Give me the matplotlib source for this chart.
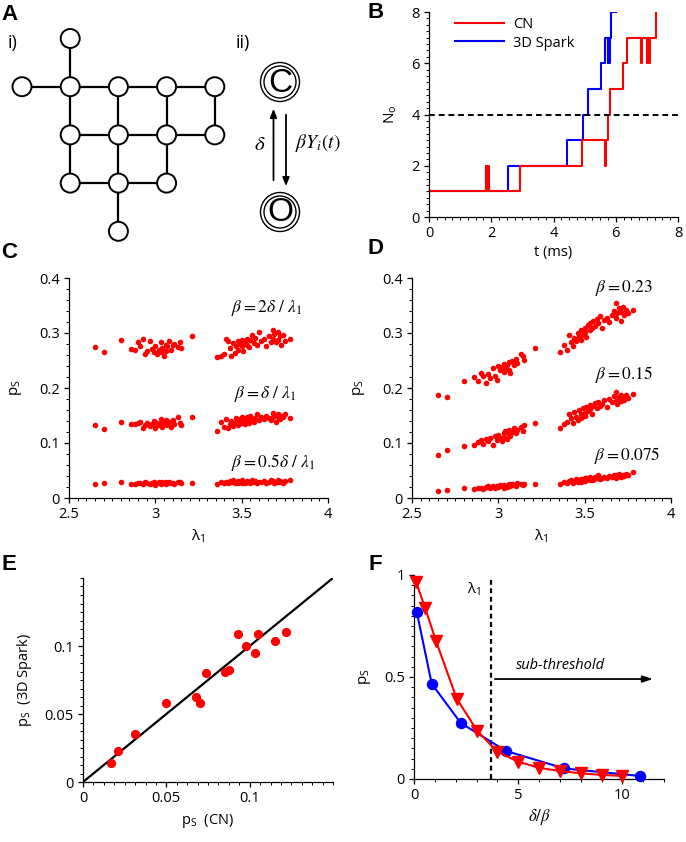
import matplotlib
matplotlib.use("Agg")
import matplotlib.pyplot as plt
from matplotlib.patches import Circle
from matplotlib.ticker import MultipleLocator, FixedLocator, FuncFormatter

plt.rcParams['font.family'] = ['Open Sans', 'DejaVu Sans']
plt.rcParams['mathtext.fontset'] = 'dejavusans'
plt.rcParams['font.size'] = 10
plt.rcParams['axes.linewidth'] = 0.9

RED = '#ff0000'
BLUE = '#0000ff'

# ---- panel A: network (grid row, grid col) ----
nodes = [(0, 1), (1, 0), (1, 1), (1, 2), (1, 3), (1, 4),
         (2, 1), (2, 2), (2, 3), (2, 4), (3, 1), (3, 2), (3, 3), (4, 2)]

# ---- panel B: number of open channels vs time ----
cn_t = [0.0, 1.84, 1.87, 1.90, 1.93, 2.93, 4.92, 5.67, 5.69, 5.75, 5.83, 6.22,
        6.36, 6.80, 6.83, 7.02, 7.05, 7.07, 7.10, 7.29, 7.30]
cn_n = [1, 2, 1, 2, 1, 2, 3, 2, 3, 4, 5, 6, 7, 6, 7, 6, 7, 6, 7, 8, 8]
spark_t = [0.0, 2.55, 4.42, 4.94, 5.10, 5.53, 5.66, 5.74, 5.76, 5.79, 5.81, 5.85, 6.00]
spark_n = [1, 2, 3, 4, 5, 6, 7, 6, 7, 6, 7, 8, 8]

# ---- panels C, D: spark probability vs lambda_1 (same networks in every row) ----
lam = [2.65, 2.70, 2.80, 2.86, 2.88, 2.90, 2.91, 2.93, 2.94, 2.95, 2.97, 2.98, 2.99,
       3.00, 3.01, 3.02, 3.03, 3.03, 3.04, 3.05, 3.06, 3.06, 3.07, 3.08, 3.09, 3.10,
       3.11, 3.13, 3.14, 3.15, 3.21,
       3.36, 3.38, 3.40, 3.41, 3.42, 3.43, 3.44, 3.45, 3.46, 3.47, 3.48, 3.48, 3.49,
       3.50, 3.50, 3.51, 3.52, 3.53, 3.53, 3.54, 3.55, 3.56, 3.57, 3.58, 3.59, 3.60,
       3.61, 3.63, 3.64, 3.66, 3.67, 3.68, 3.68, 3.69, 3.70, 3.71, 3.71, 3.72, 3.73,
       3.74, 3.75, 3.78]

c_high = [0.274, 0.266, 0.287, 0.271, 0.270, 0.283, 0.276, 0.289, 0.262, 0.268, 0.286,
          0.271, 0.265, 0.276, 0.262, 0.270, 0.283, 0.266, 0.273, 0.259, 0.278, 0.268,
          0.276, 0.286, 0.270, 0.278, 0.280, 0.275, 0.283, 0.272, 0.294,
          0.256, 0.259, 0.262, 0.290, 0.285, 0.272, 0.258, 0.282, 0.263, 0.276, 0.285,
          0.270, 0.280, 0.288, 0.276, 0.268, 0.284, 0.279, 0.290, 0.274, 0.287, 0.296,
          0.282, 0.291, 0.278, 0.301, 0.285, 0.289, 0.276, 0.294, 0.284, 0.306, 0.290,
          0.299, 0.283, 0.301, 0.288, 0.294, 0.278, 0.297, 0.286, 0.290]
c_mid = [0.132, 0.125, 0.138, 0.134, 0.135, 0.137, 0.139, 0.128, 0.133, 0.136, 0.131,
         0.134, 0.140, 0.128, 0.137, 0.132, 0.143, 0.135, 0.130, 0.139, 0.136, 0.141,
         0.133, 0.138, 0.130, 0.142, 0.135, 0.148, 0.137, 0.133, 0.148,
         0.121, 0.138, 0.130, 0.143, 0.127, 0.135, 0.140, 0.131, 0.137, 0.145, 0.132,
         0.139, 0.143, 0.136, 0.147, 0.140, 0.134, 0.148, 0.142, 0.137, 0.150, 0.144,
         0.139, 0.146, 0.153, 0.141, 0.148, 0.144, 0.150, 0.146, 0.142, 0.155, 0.147,
         0.151, 0.139, 0.148, 0.153, 0.143, 0.150, 0.147, 0.152, 0.145]
c_low = [0.026, 0.027, 0.029, 0.026, 0.025, 0.027, 0.028, 0.026, 0.029, 0.027, 0.025,
         0.028, 0.030, 0.023, 0.027, 0.029, 0.026, 0.028, 0.030, 0.027, 0.025, 0.029,
         0.028, 0.030, 0.027, 0.028, 0.026, 0.030, 0.029, 0.027, 0.028,
         0.026, 0.029, 0.028, 0.030, 0.027, 0.031, 0.029, 0.033, 0.028, 0.030, 0.027,
         0.031, 0.029, 0.032, 0.028, 0.030, 0.027, 0.031, 0.029, 0.030, 0.028, 0.032,
         0.029, 0.031, 0.027, 0.030, 0.029, 0.031, 0.028, 0.030, 0.032, 0.029, 0.031,
         0.027, 0.030, 0.032, 0.029, 0.031, 0.030, 0.028, 0.031, 0.032]

d_high = [0.188, 0.183, 0.213, 0.220, 0.212, 0.228, 0.222, 0.209, 0.226, 0.218, 0.236,
          0.222, 0.214, 0.240, 0.232, 0.238, 0.229, 0.244, 0.236, 0.241, 0.233, 0.248,
          0.227, 0.250, 0.242, 0.252, 0.246, 0.262, 0.258, 0.251, 0.273,
          0.265, 0.278, 0.269, 0.297, 0.284, 0.276, 0.291, 0.285, 0.300, 0.293, 0.288,
          0.306, 0.296, 0.310, 0.301, 0.292, 0.314, 0.305, 0.318, 0.309, 0.322, 0.313,
          0.326, 0.318, 0.331, 0.309, 0.323, 0.328, 0.320, 0.333, 0.340, 0.354, 0.328,
          0.336, 0.345, 0.322, 0.339, 0.348, 0.332, 0.342, 0.337, 0.341]
d_mid = [0.078, 0.087, 0.094, 0.096, 0.102, 0.105, 0.099, 0.108, 0.103, 0.110, 0.097,
         0.113, 0.106, 0.115, 0.109, 0.104, 0.118, 0.111, 0.121, 0.107, 0.116, 0.124,
         0.113, 0.120, 0.127, 0.118, 0.123, 0.129, 0.121, 0.133, 0.136,
         0.128, 0.134, 0.139, 0.152, 0.145, 0.136, 0.157, 0.148, 0.141, 0.160, 0.152,
         0.146, 0.163, 0.155, 0.149, 0.166, 0.158, 0.170, 0.161, 0.153, 0.168, 0.172,
         0.163, 0.175, 0.167, 0.171, 0.178, 0.165, 0.180, 0.174, 0.186, 0.177, 0.192,
         0.171, 0.183, 0.188, 0.176, 0.184, 0.179, 0.187, 0.181, 0.190]
d_low = [0.013, 0.015, 0.019, 0.017, 0.018, 0.019, 0.017, 0.020, 0.022, 0.018, 0.021,
         0.019, 0.022, 0.020, 0.023, 0.021, 0.019, 0.024, 0.022, 0.020, 0.025, 0.023,
         0.021, 0.026, 0.024, 0.022, 0.027, 0.025, 0.023, 0.026, 0.025,
         0.026, 0.029, 0.027, 0.031, 0.033, 0.028, 0.030, 0.034, 0.029, 0.032, 0.035,
         0.030, 0.033, 0.036, 0.031, 0.037, 0.034, 0.032, 0.038, 0.035, 0.033, 0.039,
         0.036, 0.042, 0.034, 0.037, 0.039, 0.036, 0.040, 0.038, 0.042, 0.037, 0.041,
         0.039, 0.043, 0.040, 0.038, 0.042, 0.040, 0.044, 0.042, 0.047]

c_labels = [r'$\beta = \mathit{2}\delta\ /\ \lambda_{\mathit{1}}$',
            r'$\beta = \delta\ /\ \lambda_{\mathit{1}}$',
            r'$\beta = \mathit{0.5}\delta\ /\ \lambda_{\mathit{1}}$']
d_labels = [r'$\beta = \mathit{0.23}$', r'$\beta = \mathit{0.15}$', r'$\beta = \mathit{0.075}$']

# ---- panel E: CN vs 3D Spark ----
ps_cn = [0.017, 0.021, 0.031, 0.050, 0.068, 0.070, 0.074, 0.085, 0.0875, 0.093,
         0.098, 0.103, 0.105, 0.115, 0.122]
ps_spark = [0.014, 0.0225, 0.0355, 0.058, 0.0623, 0.058, 0.080, 0.081, 0.082, 0.109,
            0.100, 0.0946, 0.109, 0.104, 0.110]

# ---- panel F: ps vs delta/beta ----
f_tri_x = [0.1, 0.53, 1.06, 2.05, 3.04, 4.0, 5.0, 6.0, 7.0, 8.0, 9.0, 10.0]
f_tri_y = [0.965, 0.84, 0.675, 0.394, 0.235, 0.134, 0.085, 0.055, 0.039, 0.028, 0.020, 0.015]
f_dot_x = [0.13, 0.85, 2.24, 4.4, 7.2, 10.83]
f_dot_y = [0.82, 0.467, 0.275, 0.138, 0.052, 0.015]
lam1_mark = 3.7

W, H = 686, 842
fig = plt.figure(figsize=(W / 100, H / 100), dpi=100)


def box(x0, y0, x1, y1):
    return [x0 / W, 1 - y1 / H, (x1 - x0) / W, (y1 - y0) / H]


fmt = FuncFormatter(lambda v, p: '%g' % round(v, 4))


def style(ax, xmaj, xmin, ymaj, ymin):
    for s in ('top', 'right'):
        ax.spines[s].set_visible(False)
    ax.xaxis.set_major_locator(xmaj if not isinstance(xmaj, (int, float)) else MultipleLocator(xmaj))
    ax.yaxis.set_major_locator(ymaj if not isinstance(ymaj, (int, float)) else MultipleLocator(ymaj))
    ax.xaxis.set_minor_locator(MultipleLocator(xmin))
    ax.yaxis.set_minor_locator(MultipleLocator(ymin))
    ax.xaxis.set_major_formatter(fmt)
    ax.yaxis.set_major_formatter(fmt)
    ax.tick_params(which='major', direction='out', length=3.5, width=0.9, labelsize=10.5, pad=3)
    ax.tick_params(which='minor', direction='out', length=2, width=0.7)


# ===== A =====
axA = fig.add_axes([0, 1 - 262 / H, 343 / W, 262 / H])
axA.set_xlim(0, 343)
axA.set_ylim(262, 0)
axA.axis('off')
gx0, gy0, gs = 22, 38.5, 48.2
pos = {n: (gx0 + n[1] * gs, gy0 + n[0] * gs) for n in nodes}
nset = set(nodes)
for (r, c) in nodes:
    for nb in ((r, c + 1), (r + 1, c)):
        if nb in nset:
            x1, y1 = pos[(r, c)]
            x2, y2 = pos[nb]
            axA.plot([x1, x2], [y1, y2], color='k', lw=1.6, zorder=1)
for n in nodes:
    axA.add_patch(Circle(pos[n], 9.5, facecolor='white', edgecolor='k', lw=1.4, zorder=2))
axA.text(8, 43, 'i)', fontsize=13, va='center', ha='left')
axA.text(236, 43, 'ii)', fontsize=13, va='center', ha='left')
for (cx, cy, letter) in ((280, 82, 'C'), (280, 212, 'O')):
    axA.add_patch(Circle((cx, cy), 19.5, facecolor='none', edgecolor='k', lw=1.0))
    axA.add_patch(Circle((cx, cy), 16, facecolor='none', edgecolor='k', lw=1.0))
    axA.text(cx, cy + 1, letter, fontsize=24, ha='center', va='center',
             family=['Liberation Sans', 'DejaVu Sans'])
axA.annotate('', xy=(273.5, 106), xytext=(273.5, 183),
             arrowprops=dict(arrowstyle='-|>,head_length=0.5,head_width=0.2', color='k', lw=1.3))
axA.annotate('', xy=(286, 189), xytext=(286, 112),
             arrowprops=dict(arrowstyle='-|>,head_length=0.5,head_width=0.2', color='k', lw=1.3))
axA.text(266, 145, r'$\delta$', fontsize=15, ha='right', va='center', math_fontfamily='stix')
axA.text(295, 143, r'$\beta Y_i(t)$', fontsize=14, ha='left', va='center', math_fontfamily='stix')

# ===== B =====
axB = fig.add_axes(box(429, 12, 678, 217))
axB.plot(spark_t, spark_n, drawstyle='steps-post', color=BLUE, lw=1.5, label='3D Spark')
axB.plot(cn_t, cn_n, drawstyle='steps-post', color=RED, lw=1.5, label='CN')
axB.axhline(4, color='k', ls=(0, (3, 2)), lw=1.4)
axB.set_xlim(0, 8)
axB.set_ylim(0, 8)
style(axB, 2, 0.25, 2, 0.25)
axB.set_xlabel('t (ms)', fontsize=10.5, labelpad=3)
axB.set_ylabel(r'N$_\mathregular{o}$', fontsize=11, labelpad=9)
h, l = axB.get_legend_handles_labels()
axB.legend(h[::-1], l[::-1], loc='upper left', bbox_to_anchor=(0.05, 1.04), frameon=False,
           handlelength=3.4, fontsize=10.5, labelspacing=0.25, handletextpad=0.6)

# ===== C & D =====
for rect, rows, labels, lab_pos in (
        (box(69, 278, 328, 498), (c_high, c_mid, c_low), c_labels,
         [(3.85, 0.345), (3.82, 0.19), (3.925, 0.064)]),
        (box(412, 278, 671, 498), (d_high, d_mid, d_low), d_labels,
         [(3.896, 0.382), (3.896, 0.224), (3.94, 0.078)])):
    ax = fig.add_axes(rect)
    for ys in rows:
        ax.scatter(lam, ys, s=16, color=RED, linewidths=0, zorder=3)
    for txt, (tx, ty) in zip(labels, lab_pos):
        ax.text(tx, ty, txt, fontsize=12.5, ha='right', va='center', math_fontfamily='stix')
    ax.set_xlim(2.5, 4)
    ax.set_ylim(0, 0.4)
    style(ax, 0.5, 0.05, 0.1, 0.02)
    ax.set_xlabel(r'λ$_\mathregular{1}$', fontsize=11, labelpad=4)
    ax.set_ylabel(r'p$_\mathregular{S}$', fontsize=11, labelpad=11)

# ===== E =====
axE = fig.add_axes(box(83, 578, 333, 782))
axE.plot([0, 0.15], [0, 0.15], color='k', lw=1.6, zorder=2)
axE.scatter(ps_cn, ps_spark, s=44, color=RED, linewidths=0, zorder=3)
axE.set_xlim(0, 0.15)
axE.set_ylim(0, 0.15)
style(axE, FixedLocator([0, 0.05, 0.1]), 0.00625, FixedLocator([0, 0.05, 0.1]), 0.00625)
axE.set_xlabel(r'p$_\mathregular{S}$  (CN)', fontsize=10.5, labelpad=4)
axE.set_ylabel(r'p$_\mathregular{S}$  (3D Spark)', fontsize=10.5, labelpad=8)

# ===== F =====
axF = fig.add_axes(box(414, 575, 664, 779))
axF.plot(f_dot_x, f_dot_y, '-o', color=BLUE, lw=1.5, ms=7.2, clip_on=False, zorder=3)
axF.plot(f_tri_x, f_tri_y, '-v', color=RED, lw=1.5, ms=8, clip_on=False, zorder=4)
axF.plot([lam1_mark, lam1_mark], [0, 0.985], color='k', ls=(0, (2.2, 1.6)), lw=1.6, zorder=2)
axF.text(lam1_mark - 0.5, 0.93, r'λ$_\mathregular{1}$', fontsize=10.5, ha='right', va='center')
axF.annotate('', xy=(11.6, 0.49), xytext=(lam1_mark + 0.05, 0.49),
             arrowprops=dict(arrowstyle='-|>,head_length=0.6,head_width=0.2', color='k', lw=1.3))
axF.text(7.05, 0.555, 'sub-threshold', fontsize=10.5, style='italic', ha='center', va='center')
axF.set_xlim(0, 12)
axF.set_ylim(0, 1)
style(axF, 5, 1, 0.5, 0.05)
axF.set_xlabel(r'$\delta/\beta$', fontsize=12, labelpad=3, math_fontfamily='stix')
axF.set_ylabel(r'p$_\mathregular{S}$', fontsize=11, labelpad=8)

# ===== panel letters =====
for letter, x, y in (('A', 9, 14), ('B', 376, 12), ('C', 9, 253),
                     ('D', 376, 249), ('E', 9, 565), ('F', 375, 565)):
    fig.text(x / W, 1 - y / H, letter, fontsize=16, fontweight='bold', ha='center', va='center',
             family=['Liberation Sans', 'DejaVu Sans'])

fig.savefig('out.png', dpi=100)
